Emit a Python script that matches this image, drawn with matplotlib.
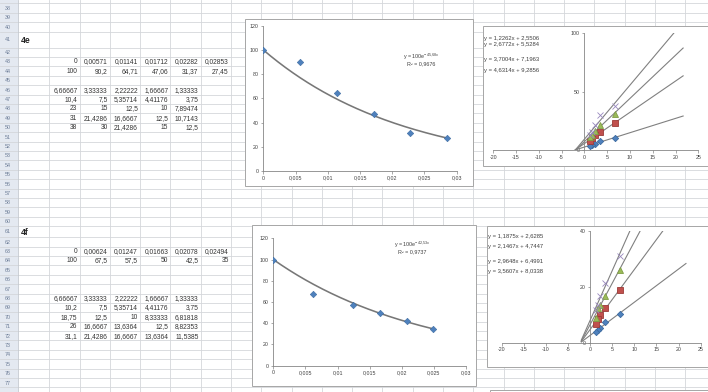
import numpy as np
import matplotlib
matplotlib.use("Agg")
import matplotlib.pyplot as plt
from matplotlib.patches import Rectangle
from matplotlib.ticker import FuncFormatter, FixedLocator

plt.rcParams['font.family'] = ['Liberation Sans', 'DejaVu Sans']

# ---------------- data (as shown in the sheet) ----------------
sheet_rows = list(range(38, 78))

# block 4e
x_4e = [0, 0.00571, 0.01141, 0.01712, 0.02282, 0.02853]
y_4e = [100, 90.2, 64.71, 47.06, 31.37, 27.45]
inv_s_4e = [6.66667, 3.33333, 2.22222, 1.66667, 1.33333]
v_4e_a = [10.4, 7.5, 5.35714, 4.41176, 3.75]
v_4e_b = [23, 15, 12.5, 10, 7.89474]
v_4e_c = [31, 21.4286, 16.6667, 12.5, 10.7143]
v_4e_d = [38, 30, 21.4286, 15, 12.5]

# block 4f
x_4f = [0, 0.00624, 0.01247, 0.01663, 0.02078, 0.02494]
y_4f = [100, 67.5, 57.5, 50, 42.5, 35]
inv_s_4f = [6.66667, 3.33333, 2.22222, 1.66667, 1.33333]
v_4f_a = [10.2, 7.5, 5.35714, 4.41176, 3.75]
v_4f_b = [18.75, 12.5, 10, 8.33333, 6.81818]
v_4f_c = [26, 16.6667, 13.6364, 12.5, 8.82353]
v_4f_d = [31.1, 21.4286, 16.6667, 13.6364, 11.5385]

section_titles = {41: "4e", 61: "4f"}
sheet_cells = {
    43: x_4e, 44: y_4e, 46: inv_s_4e, 47: v_4e_a, 48: v_4e_b, 49: v_4e_c, 50: v_4e_d,
    63: x_4f, 64: y_4f, 68: inv_s_4f, 69: v_4f_a, 70: v_4f_b, 71: v_4f_c, 72: v_4f_d,
}

exp_xticks = [0, 0.005, 0.01, 0.015, 0.02, 0.025, 0.03]
exp_yticks = [0, 20, 40, 60, 80, 100, 120]
lin_xticks = [-20, -15, -10, -5, 0, 5, 10, 15, 20, 25]

# ---------------- layout helpers ----------------
W, H = 708, 392
fig = plt.figure(figsize=(W / 100, H / 100), dpi=100)
fig.patch.set_facecolor('white')


def frac(x0, y0, x1, y1):
    """pixel box (top-left origin) -> figure fraction [l, b, w, h]"""
    return [x0 / W, 1 - y1 / H, (x1 - x0) / W, (y1 - y0) / H]


def fmt(v):
    return format(v, '.6g').replace('.', ',')


grid_c = '#d4d7db'
txt_c = '#333333'
lab_c = '#404040'

base = fig.add_axes([0, 0, 1, 1])
base.set_xlim(0, W)
base.set_ylim(H, 0)
base.axis('off')

# row geometry
row_h = {r: 9.4 for r in sheet_rows}
row_h[41] = 16
row_h[61] = 11
row_top = {}
y = 3.3
for r in sheet_rows:
    row_top[r] = y
    y += row_h[r]

hdr_w = 17.5
col_x0 = 49.3
col_w = 30.28

# header background
base.add_patch(Rectangle((0, 0), hdr_w, H, facecolor='#e4e9f1', edgecolor='none', zorder=0))
# horizontal grid lines
for r in sheet_rows:
    base.plot([0, W], [row_top[r], row_top[r]], color=grid_c, lw=0.6, zorder=1)
base.plot([0, W], [row_top[77] + row_h[77]] * 2, color=grid_c, lw=0.6, zorder=1)
# vertical grid lines
base.plot([hdr_w, hdr_w], [0, H], color='#c4c9d0', lw=0.6, zorder=1)
k = 0
while col_x0 + k * col_w < W:
    xx = col_x0 + k * col_w
    base.plot([xx, xx], [0, H], color=grid_c, lw=0.6, zorder=1)
    k += 1

# row numbers
for r in sheet_rows:
    base.text(5, row_top[r] + row_h[r] / 2 + 0.3, str(r), fontsize=3.9, color='#6f7f99',
              ha='left', va='center', zorder=2)

# section titles
for r, t in section_titles.items():
    base.text(21, row_top[r] + row_h[r] / 2 + 0.5, t, fontsize=6.2, fontweight='bold',
              color='#222222', ha='left', va='center', zorder=2)

# cell values
for r, vals in sheet_cells.items():
    yc = row_top[r] + row_h[r] / 2 + 0.3
    for j, v in enumerate(vals):
        xr = col_x0 + (j + 1) * col_w - 2.2
        base.text(xr, yc, fmt(v), fontsize=4.8, color=txt_c, ha='right', va='center', zorder=2)

# chart frames (white areas over the grid)
frames = [(245, 19, 473, 186), (252, 225, 476, 386), (483, 26, 712, 166),
          (487, 226, 712, 367), (490, 390, 712, 400)]
for (x0, y0, x1, y1) in frames:
    base.add_patch(Rectangle((x0, y0), x1 - x0, y1 - y0, facecolor='white',
                             edgecolor='#a6a6a6', lw=0.7, zorder=3))


def style_axes(ax):
    ax.set_facecolor('none')
    for s in ['top', 'right']:
        ax.spines[s].set_visible(False)
    for s in ['left', 'bottom']:
        ax.spines[s].set_color('#868686')
        ax.spines[s].set_linewidth(0.6)
    ax.tick_params(length=1.8, width=0.5, color='#868686', labelsize=3.8,
                   labelcolor=lab_c, pad=1.5)


# ---------------- exponential charts ----------------
def exp_chart(box, xs, ys, label_xy):
    ax = fig.add_axes(frac(*box))
    style_axes(ax)
    ax.set_xlim(0, 0.03)
    ax.set_ylim(0, 120)
    ax.xaxis.set_major_locator(FixedLocator(exp_xticks))
    ax.yaxis.set_major_locator(FixedLocator(exp_yticks))
    ax.xaxis.set_major_formatter(FuncFormatter(lambda v, p: format(v, 'g').replace('.', ',')))
    ax.yaxis.set_major_formatter(FuncFormatter(lambda v, p: format(v, 'g')))
    xa = np.array(xs, float)
    ya = np.array(ys, float)
    Y = np.log(ya / ya[0])
    kk = np.sum(xa * Y) / np.sum(xa * xa)
    res = Y - kk * xa
    r2 = 1 - np.sum(res ** 2) / np.sum((Y - Y.mean()) ** 2)
    xf = np.linspace(xa.min(), xa.max(), 200)
    ax.plot(xf, ya[0] * np.exp(kk * xf), color='#777777', lw=1.15, zorder=2)
    ax.plot(xa, ya, linestyle='none', marker='D', ms=3.3, color='#4F81BD',
            mec='#3b6aa0', mew=0.4, zorder=3)
    kstr = format(kk, '.2f').replace('.', '{,}')
    eq = r"y = %se$^{\mathregular{%sx}}$" % (fmt(ya[0]), kstr)
    fig.text(label_xy[0] / W, 1 - label_xy[1] / H, eq, fontsize=3.9, color=lab_c,
             ha='center', va='center')
    fig.text(label_xy[0] / W, 1 - (label_xy[1] + 6.5) / H,
             "R² = " + format(r2, '.4f').replace('.', ','), fontsize=3.9, color=lab_c,
             ha='center', va='center')
    return ax


exp_chart((263.3, 25.7, 456.7, 171), x_4e, y_4e, (421, 57))
exp_chart((273.3, 238.3, 466, 365.7), x_4f, y_4f, (412, 245))


# ---------------- Lineweaver-Burk style charts ----------------
series_style = [
    dict(marker='D', color='#4F81BD', mec='#3b6aa0', ms=3.2),
    dict(marker='s', color='#C0504D', mec='#9c3b38', ms=4.0),
    dict(marker='^', color='#9BBB59', mec='#7f9d45', ms=4.0),
    dict(marker='x', color='#9787bd', mec='#9787bd', ms=4.0),
]


def lin_chart(box, ymax, yticks, xs, series, eq_x, eq_ys):
    ax = fig.add_axes(frac(*box))
    style_axes(ax)
    ax.set_xlim(-20, 25)
    ax.set_ylim(0, ymax)
    ax.spines['left'].set_position(('data', 0))
    ax.spines['bottom'].set_position(('data', 0))
    ax.xaxis.set_major_locator(FixedLocator(lin_xticks))
    ax.yaxis.set_major_locator(FixedLocator(yticks))
    ax.xaxis.set_major_formatter(FuncFormatter(lambda v, p: format(v, 'g')))
    ax.yaxis.set_major_formatter(FuncFormatter(lambda v, p: format(v, 'g')))
    xa = np.array(xs, float)
    x_lo = xa.min() - 10 / 3
    x_hi = xa.max() + 15
    for i, ys in enumerate(series):
        ya = np.array(ys, float)
        m, b = np.polyfit(xa, ya, 1)
        xf = np.array([x_lo, x_hi])
        ax.plot(xf, m * xf + b, color='#808080', lw=0.8, zorder=2)
        st = series_style[i]
        ax.plot(xa, ya, linestyle='none', marker=st['marker'], ms=st['ms'],
                color=st['color'], mec=st['mec'], mew=0.6, zorder=3, clip_on=False)
        eq = "y = %sx + %s" % (format(m, '.4f').replace('.', ','),
                               format(b, '.4f').replace('.', ','))
        fig.text(eq_x / W, 1 - eq_ys[i] / H, eq, fontsize=4.2, color=lab_c,
                 ha='left', va='center')
    return ax


lin_chart((493.3, 33.3, 698.3, 150), 100, [0, 50, 100], inv_s_4e,
          [v_4e_a, v_4e_b, v_4e_c, v_4e_d], 484.5, [38.5, 44.5, 59.5, 70.5])
lin_chart((501.7, 231, 700.7, 342.7), 40, [0, 20, 40], inv_s_4f,
          [v_4f_a, v_4f_b, v_4f_c, v_4f_d], 487.5, [236.7, 246.7, 261, 271.7])

fig.savefig('out.png', dpi=100, facecolor='white')
